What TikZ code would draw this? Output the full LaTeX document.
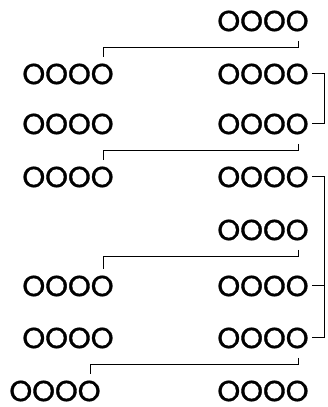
\documentclass[tikz,border=0pt]{standalone}
\usepackage{fontspec}
\newfontfamily\ofont{Poppins}[FakeBold=1.2]
\usepackage{tikz}

\begin{document}
\begin{tikzpicture}[x=1pt,y=1pt,line width=1pt]
		\useasboundingbox (0,0) rectangle (327,407);

		% Right column
		\begin{scope}[every node/.style={inner xsep=3pt,inner ysep=0pt,font=\ofont\fontsize{29}{29}\selectfont}]
			\node (r0) at (263,386) {OOOO};
			\node (r1) at (263,333) {OOOO};
			\node (r2) at (263,283) {OOOO};
			\node (r3) at (263,230) {OOOO};
			\node (r4) at (263,177) {OOOO};
			\node (r5) at (263,121) {OOOO};
			\node (r6) at (263,69) {OOOO};
			\node (r7) at (263,16) {OOOO};
		\end{scope}

		% Left column
		\begin{scope}[every node/.style={inner xsep=3pt,inner ysep=0pt,font=\ofont\fontsize{29}{29}\selectfont}]
			\node (l1) at (68,333) {OOOO};
			\node (l2) at (68,283) {OOOO};
			\node (l3) at (68,230) {OOOO};
			\node (l5) at (68,121) {OOOO};
			\node (l6) at (68,69) {OOOO};
			\node (l7) at (55,16) {OOOO};
		\end{scope}

		% Links right to left
		\begin{scope}[every path/.style={draw}]
			\path ([xshift=-14pt,yshift=-9pt]r0.south east) -- ++(0,-7) -| ([xshift=-14pt,yshift=6pt]l1.north east);
			\path ([xshift=-14pt,yshift=-9pt]r2.south east) -- ++(0,-7) -| ([xshift=-14pt,yshift=6pt]l3.north east);
			\path ([xshift=-14pt,yshift=-9pt]r4.south east) -- ++(0,-7) -| ([xshift=-14pt,yshift=6pt]l5.north east);
			\path ([xshift=-14pt,yshift=-9pt]r6.south east) -- ++(0,-7) -| ([xshift=-14pt,yshift=6pt]l7.north east);
		\end{scope}

		% Brackets on the right
		\draw (r1.east) -- ++(12,0) |- (r2.east);
		\draw (r3.east) -- ++(12,0) |- (r6.east);
		\draw (r5.east) -- ++(12,0);

	\end{tikzpicture}
\end{document}
